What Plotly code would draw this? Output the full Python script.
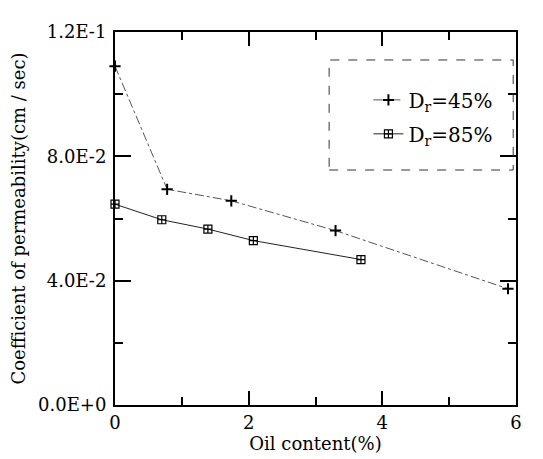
import plotly.graph_objects as go

# Data
oil_45 = [0.0, 0.78, 1.74, 3.3, 5.88]
k_45 = [0.109, 0.0694, 0.0657, 0.0561, 0.0374]
oil_85 = [0.0, 0.70, 1.39, 2.07, 3.68]
k_85 = [0.0646, 0.0596, 0.0566, 0.0529, 0.0468]

y_tickvals = [0, 0.04, 0.08, 0.12]
y_ticktext = ["0.0E+0", "4.0E-2", "8.0E-2", "1.2E-1"]
x_tickvals = [0, 2, 4, 6]

FONT = "DejaVu Serif, serif"

fig = go.Figure()
fig.add_trace(go.Scatter(
    x=oil_45, y=k_45, mode="lines+markers", name="D<sub>r</sub>=45%",
    line=dict(color="#555555", width=1, dash="dashdot"),
    marker=dict(symbol="cross-thin-open", size=8, color="black",
                line=dict(width=2, color="black")),
    cliponaxis=False, legend="legend", showlegend=True,
))
fig.add_trace(go.Scatter(
    x=oil_85, y=k_85, mode="lines+markers", name="D<sub>r</sub>=85%",
    line=dict(color="#222222", width=1),
    marker=dict(symbol="square-cross-open", size=8, color="black",
                line=dict(width=1.2, color="black")),
    cliponaxis=False, legend="legend2", showlegend=True,
))

axis_common = dict(
    showline=True, linecolor="black", linewidth=2, mirror="ticks",
    ticks="inside", tickcolor="black", tickwidth=2,
    showgrid=False, zeroline=False, automargin=False,
    tickfont=dict(family=FONT, size=18, color="black"),
)

fig.update_xaxes(
    range=[0, 6], tickvals=x_tickvals, ticklen=14,
    minor=dict(dtick=1, ticklen=8, ticks="inside", tickcolor="black", tickwidth=1.5),
    title=dict(text="Oil content(%)", font=dict(family=FONT, size=18, color="black"), standoff=2),
    **axis_common,
)
fig.update_yaxes(
    range=[0, 0.12], tickvals=y_tickvals, ticktext=y_ticktext, ticklen=16,
    ticklabelstandoff=3,
    minor=dict(tickvals=[0.02, 0.06, 0.10], ticklen=8, ticks="inside", tickcolor="black", tickwidth=1.5),
    title=dict(text="Coefficient of permeability(cm / sec)", font=dict(family=FONT, size=18, color="black"), standoff=8),
    **axis_common,
)

legend_common = dict(
    bgcolor="rgba(0,0,0,0)", borderwidth=0,
    font=dict(family=FONT, size=20, color="black"),
    xanchor="left", yanchor="middle", visible=True,
)
fig.update_layout(
    width=543, height=459, showlegend=True,
    margin=dict(l=107, r=35, t=24, b=62, autoexpand=False),
    plot_bgcolor="white", paper_bgcolor="white",
    legend=dict(x=0.632, y=0.818, **legend_common),
    legend2=dict(x=0.632, y=0.727, **legend_common),
    shapes=[dict(type="rect", xref="paper", yref="paper",
                 x0=0.534, x1=0.993, y0=0.630, y1=0.925,
                 line=dict(color="#333333", width=1, dash="dash"))],
)

fig.write_html("out.html")
